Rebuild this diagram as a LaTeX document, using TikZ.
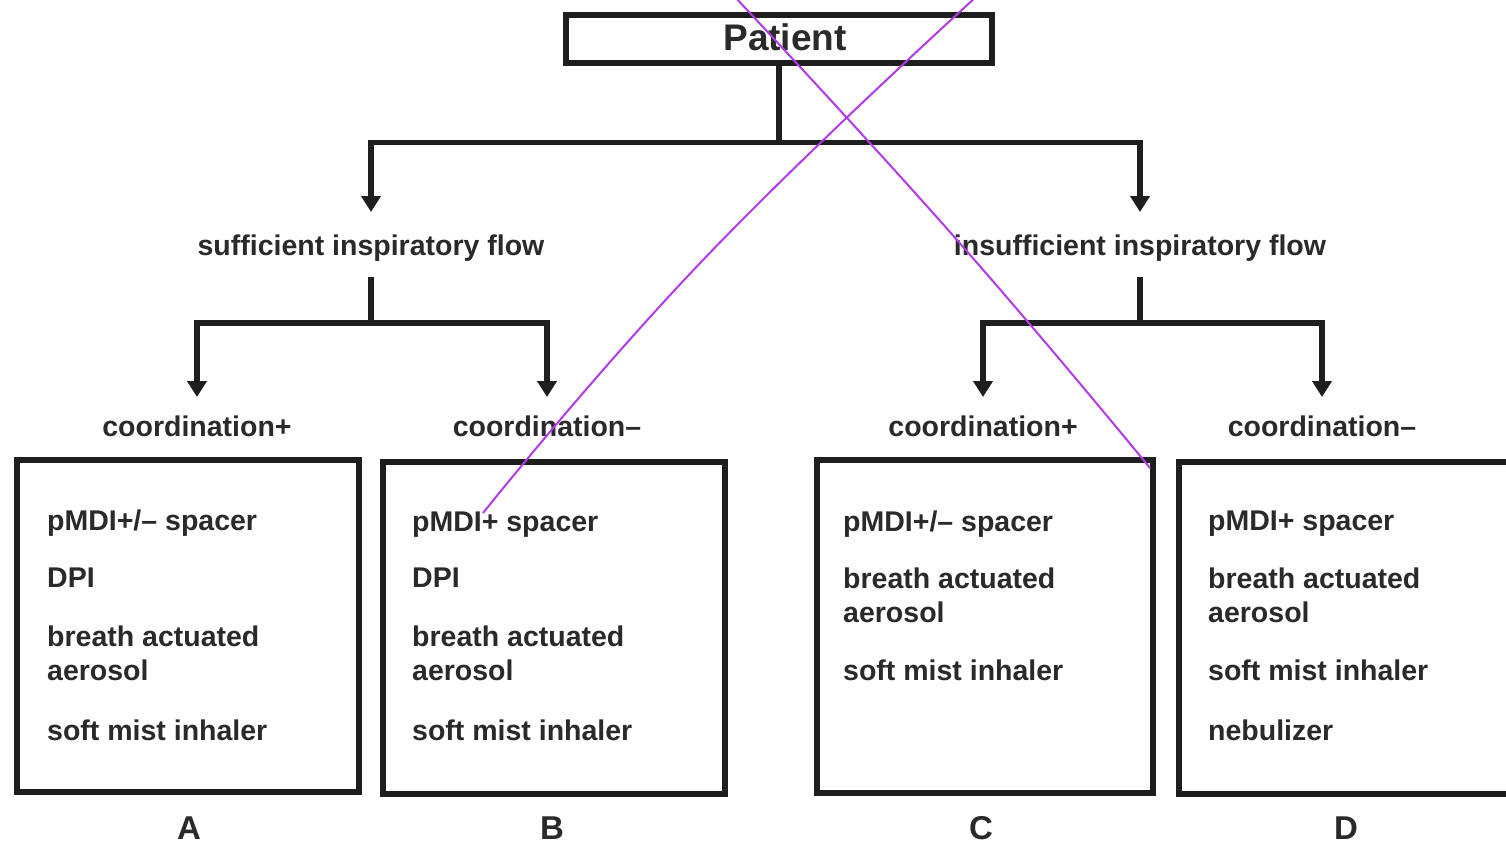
\documentclass[tikz,border=0pt]{standalone}
\usepackage{fontspec}
\setmainfont{Liberation Sans}
\usetikzlibrary{arrows.meta,calc}
\definecolor{ink}{HTML}{1E1E1E}
\definecolor{txt}{HTML}{2A2A2A}
\definecolor{xviolet}{RGB}{178,58,232}
\begin{document}
\begin{tikzpicture}[x=1pt,y=-1pt,
  conn/.style={draw=ink,line width=5.5pt},
  arr/.style={conn,-{Triangle[width=19pt,length=16pt]}},
  frame/.style={draw=ink,line width=6pt,inner sep=0pt,fill=white},
  lbl/.style={font=\fontsize{28.5}{34}\selectfont\bfseries,text=txt,inner sep=0pt,anchor=base},
  item/.style={font=\fontsize{28.5}{34}\selectfont\bfseries,text=txt,inner sep=0pt,anchor=base west,align=left},
  letter/.style={font=\fontsize{33}{36}\selectfont\bfseries,text=txt,inner sep=0pt,anchor=base},
  xline/.style={draw=xviolet,line width=2pt}
]
\useasboundingbox[fill=white] (0,0) rectangle (1506,848);

% top node
\node[frame,minimum width=425.5pt,minimum height=48.5pt] (patient) at (778.75,39.25) {};
\node[font=\fontsize{37}{40}\selectfont\bfseries,text=txt,inner sep=0pt,anchor=base] (patientlbl) at (785,51) {Patient};

% level 1 labels
\node[lbl] (suff) at (371,255) {sufficient inspiratory flow};
\node[lbl] (insuff) at (1140,255) {insufficient inspiratory flow};

% level 2 labels
\node[lbl] (c1) at (197,436) {coordination+};
\node[lbl] (c2) at (547,436) {coordination--};
\node[lbl] (c3) at (983,436) {coordination+};
\node[lbl] (c4) at (1322,436) {coordination--};

% boxes
\node[frame,minimum width=342pt,minimum height=332pt] (boxA) at (187.5,626) {};
\node[frame,minimum width=342pt,minimum height=332pt] (boxB) at (554,627.5) {};
\node[frame,minimum width=335.5pt,minimum height=333pt] (boxC) at (984.75,626.5) {};
\node[frame,minimum width=351.5pt,minimum height=332pt] (boxD) at (1354.25,627.5) {};

% box A items (multi-line items: base = last line)
\node[item] (a1) at (47,530) {pMDI+/-- spacer};
\node[item] (a2) at (47,587) {DPI};
\node[item] (a3) at (47,680) {breath actuated\\aerosol};
\node[item] (a4) at (47,740) {soft mist inhaler};
% box B items
\node[item] (b1) at (412,531) {pMDI+ spacer};
\node[item] (b2) at (412,587) {DPI};
\node[item] (b3) at (412,680) {breath actuated\\aerosol};
\node[item] (b4) at (412,740) {soft mist inhaler};
% box C items
\node[item] (cc1) at (843,531) {pMDI+/-- spacer};
\node[item] (cc2) at (843,622) {breath actuated\\aerosol};
\node[item] (cc3) at (843,680) {soft mist inhaler};
% box D items
\node[item] (d1) at (1208,530) {pMDI+ spacer};
\node[item] (d2) at (1208,622) {breath actuated\\aerosol};
\node[item] (d3) at (1208,680) {soft mist inhaler};
\node[item] (d4) at (1208,740) {nebulizer};

% letters
\node[letter] (LA) at (189,839) {A};
\node[letter] (LB) at (552,839) {B};
\node[letter] (LC) at (981,839) {C};
\node[letter] (LD) at (1346,839) {D};

% connectors
\draw[conn] (patient.south) -- ($(patient.south)+(0,76)$) coordinate (j0);
\draw[arr] (j0) -| ($(suff.base)+(0,-43)$);
\draw[arr] (j0) -| ($(insuff.base)+(0,-43)$);

\draw[conn] ($(suff.base)+(0,22)$) -- ++(0,46) coordinate (j1);
\draw[arr] (j1) -| ($(c1.base)+(0,-39)$);
\draw[arr] (j1) -| ($(c2.base)+(0,-39)$);

\draw[conn] ($(insuff.base)+(0,22)$) -- ++(0,46) coordinate (j2);
\draw[arr] (j2) -| ($(c3.base)+(0,-39)$);
\draw[arr] (j2) -| ($(c4.base)+(0,-39)$);

% violet cross marks
\draw[xline] plot[smooth,tension=0.8] coordinates {(735,-3) (957,240) (1150,468)};
\draw[xline] plot[smooth,tension=0.8] coordinates {(976,-3) (703,260) (483,513)};
\end{tikzpicture}
\end{document}
